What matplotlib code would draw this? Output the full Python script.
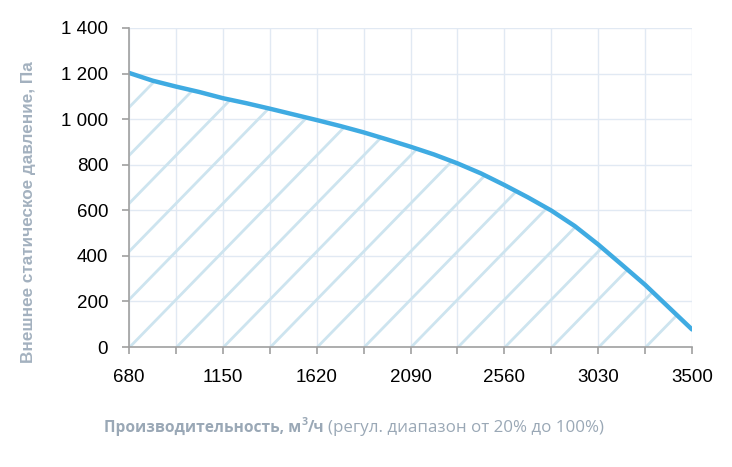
import matplotlib
matplotlib.use("Agg")
import matplotlib.pyplot as plt
import numpy as np

flow = [680, 797.5, 915, 1032.5, 1150, 1267.5, 1385, 1502.5, 1620, 1737.5, 1855, 1972.5,
        2090, 2207.5, 2325, 2442.5, 2560, 2677.5, 2795, 2912.5, 3030, 3147.5, 3265, 3382.5, 3500]
pressure = [1203, 1169, 1143, 1119, 1092, 1070, 1046, 1021, 996, 970, 942, 911,
            879, 845, 806, 762, 711, 657, 599, 531, 450, 362, 273, 175, 77]
x_ticks = [680, 1150, 1620, 2090, 2560, 3030, 3500]
y_ticks = [0, 200, 400, 600, 800, 1000, 1200, 1400]
y_labels = ["0", "200", "400", "600", "800", "1 000", "1 200", "1 400"]

W, H = 732, 467
fig = plt.figure(figsize=(W / 100, H / 100), dpi=100)
ax = fig.add_axes([129 / W, 1 - 347 / H, (692 - 129) / W, (347 - 28) / H])

xmin, xmax = 680, 3500
ymin, ymax = 0, 1400
ax.set_xlim(xmin, xmax)
ax.set_ylim(ymin, ymax)

ax.set_xticks(x_ticks)
ax.set_xticks([v + 235 for v in x_ticks[:-1]], minor=True)
ax.set_yticks(y_ticks)
ax.set_yticklabels(y_labels)
ax.grid(True, which="both", color="#e1e9f3", lw=1.0, zorder=0)
ax.set_axisbelow(True)

poly = ax.fill_between(flow, pressure, 0, facecolor="none", edgecolor="none", zorder=1)
clip = poly.get_paths()[0]

# hatch: lines spaced 235 along x, rising 211 per 235
step_x = 235.0
rise = 211.0
for n in range(-8, 13):
    x0 = xmin + 4 + step_x * n
    xs = np.array([x0, x0 + 4000])
    ys = (xs - x0) * rise / step_x
    ln, = ax.plot(xs, ys, color="#cde4ef", lw=2.0, zorder=2, solid_capstyle="butt")
    ln.set_clip_path(clip, transform=ax.transData)

ax.plot(flow, pressure, color="#3fabe2", lw=3.2, zorder=4, solid_capstyle="round",
        solid_joinstyle="round")

for s in ["top", "right"]:
    ax.spines[s].set_visible(False)
for s in ["left", "bottom"]:
    ax.spines[s].set_color("#a0a0a0")
    ax.spines[s].set_linewidth(1.2)
    ax.spines[s].set_zorder(5)

ax.tick_params(axis="both", which="both", direction="out", color="#a0a0a0", width=1.2,
               labelsize=13.5, labelcolor="black")
ax.tick_params(axis="x", which="both", length=5, pad=11)
ax.tick_params(axis="y", length=5, pad=10)
for lab in ax.get_xticklabels() + ax.get_yticklabels():
    lab.set_fontfamily("Liberation Sans")

fig.text(29 / W, 1 - 212 / H, "Внешнее статическое давление, Па", rotation=90,
         ha="center", va="center", fontsize=12.3, fontweight="bold",
         color="#a3b1bf", family="Liberation Sans")

# x label pieces (bold part then regular part), sized to match reference widths
fig.canvas.draw()
r = fig.canvas.get_renderer()
base_y = 1 - 432 / H
col = "#9aa8b6"
fam = "Open Sans"


def place(pieces, x_start, target_w):
    # first pass to measure
    fs_scale = 1.0
    for _ in range(2):
        x = x_start
        objs = []
        for txt, wt, fs, dy in pieces:
            t = fig.text(x / W, base_y + dy / H, txt, ha="left", va="baseline",
                         fontsize=fs * fs_scale, fontweight=wt, color=col, family=fam)
            bb = t.get_window_extent(renderer=r)
            x = bb.x1 + (1 if txt == "3" else 0)
            objs.append(t)
        width = x - x_start
        if _ == 0:
            for t in objs:
                t.remove()
            fs_scale = target_w / width
    return x


place([("Производительность, м", "bold", 11, 0),
       ("3", "bold", 7.5, 7),
       ("/ч", "bold", 11, 0)], 104, 221)
place([("(регул. диапазон от 20% до 100%)", "normal", 11, 0)], 328, 274)

fig.savefig("out.png", dpi=100)
